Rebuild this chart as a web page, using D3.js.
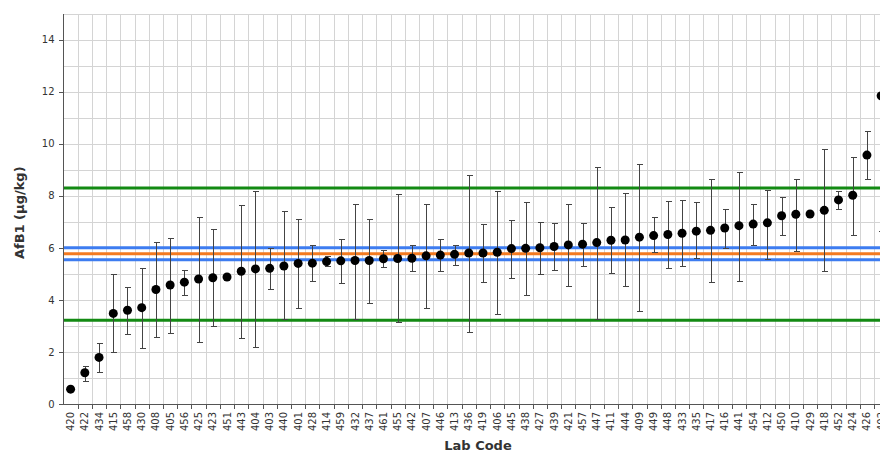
<!DOCTYPE html>
<html>
<head>
<meta charset="utf-8">
<script src="https://cdn.jsdelivr.net/npm/d3@7"></script>
<style>
  body { margin: 0; background: #fff; }
  svg { display: block; overflow: hidden; }
  .grid line { stroke: #d4d4d4; stroke-width: 1; shape-rendering: crispEdges; }
  .axis path, .axis line { stroke: #555; shape-rendering: crispEdges; }
  .axis text { font-family: "DejaVu Sans", Verdana, sans-serif; font-size: 10px; fill: #333; }
  .title { font-family: "DejaVu Sans", Verdana, sans-serif; font-size: 13px; font-weight: bold; fill: #333; }
  .errbar line { stroke: #444; stroke-width: 1; shape-rendering: crispEdges; }
  .point { fill: #000; }
</style>
</head>
<body>
<div class="content"></div>
<script>
var svgWidth = 880;   // The width of the SVG element.
var svgHeight = 452;  // The height of the SVG element.

// Lab codes, sorted by result.
var labCodes = ["420","422","434","415","458","430","408","405","456","425","423","451","443","404","403",
	"440","401","428","414","459","432","437","461","455","442","407","446","413","436","419",
	"406","445","438","427","439","421","457","447","411","444","409","449","448","433","435",
	"417","416","441","454","412","450","410","429","418","452","424","426","402"];

// Reported AfB1 results (µg/kg).
var results = [0.57,1.20,1.79,3.48,3.60,3.70,4.40,4.57,4.68,4.80,4.85,4.88,5.10,5.19,5.21,
	5.30,5.40,5.41,5.47,5.50,5.51,5.51,5.58,5.59,5.60,5.69,5.72,5.75,5.80,5.80,
	5.83,5.97,5.98,6.00,6.05,6.11,6.14,6.20,6.29,6.30,6.41,6.47,6.51,6.56,6.64,
	6.67,6.76,6.85,6.91,6.96,7.23,7.29,7.30,7.44,7.84,8.02,9.56,11.84];

// Lower and upper ends of the reported uncertainty (null = none reported).
var lowerLimits = [null,0.88,1.23,1.98,2.68,2.17,2.59,2.74,4.20,2.40,3.00,null,2.55,2.18,4.40,
	3.27,3.70,4.74,5.30,4.65,3.28,3.88,5.25,3.16,5.09,3.70,5.09,5.35,2.77,4.68,
	3.47,4.84,4.17,4.98,5.13,4.52,5.29,3.27,5.03,4.52,3.58,5.82,5.22,5.29,5.60,
	4.68,6.01,4.72,6.09,5.57,6.50,5.87,null,5.10,7.48,6.49,8.65,6.64];
var upperLimits = [null,1.47,2.36,4.98,4.50,5.21,6.21,6.39,5.13,7.20,6.71,null,7.66,8.20,5.98,
	7.43,7.10,6.10,5.68,6.33,7.69,7.10,5.91,8.07,6.10,7.68,6.33,6.10,8.79,6.91,
	8.17,7.06,7.76,6.99,6.94,7.68,6.94,9.09,7.56,8.09,9.23,7.19,7.80,7.82,7.77,
	8.64,7.48,8.92,7.68,8.22,7.95,8.64,null,9.78,8.19,9.49,10.50,17.0];

// Horizontal reference lines: assigned value, its uncertainty and the limits.
var refValues = [8.30, 6.00, 5.77, 5.54, 3.22];
var refColors = ["#138a13", "#3d7cf0", "#f47a20", "#3d7cf0", "#138a13"];

var yTicks = [0, 2, 4, 6, 8, 10, 12, 14];

var plotLeft = 63.5;
var plotTop = 13.5;
var plotBottom = 404;
var bandWidth = 14.22;

// Create the SVG element.
var svg = d3.select(".content")
	.append("svg")
	.attr("width", svgWidth)
	.attr("height", svgHeight);

var x = d3.scaleBand()
	.domain(labCodes)
	.range([plotLeft, plotLeft + bandWidth * labCodes.length])
	.padding(0);

var y = d3.scaleLinear()
	.domain([0, 15])
	.range([plotBottom, plotTop]);

var plotRight = x.range()[1];

svg.append("clipPath")
	.attr("id", "plotclip")
	.append("rect")
	.attr("x", plotLeft)
	.attr("y", plotTop - 1)
	.attr("width", plotRight - plotLeft)
	.attr("height", plotBottom - plotTop + 1);

// Grid lines: one horizontal line per unit, one vertical line between every lab.
var grid = svg.append("g").classed("grid", true);
grid.selectAll(".hgrid")
	.data(d3.range(1, 16))
	.enter().append("line")
	.attr("x1", plotLeft)
	.attr("x2", plotRight)
	.attr("y1", function(d) { return Math.round(y(d)) + 0.5; })
	.attr("y2", function(d) { return Math.round(y(d)) + 0.5; });
grid.selectAll(".vgrid")
	.data(labCodes.slice(1))
	.enter().append("line")
	.attr("x1", function(d) { return Math.round(x(d)) + 0.5; })
	.attr("x2", function(d) { return Math.round(x(d)) + 0.5; })
	.attr("y1", plotTop)
	.attr("y2", plotBottom);

var plot = svg.append("g").attr("clip-path", "url(#plotclip)");

// Reference lines, starting at the first lab.
plot.selectAll(".ref")
	.data(refValues)
	.enter().append("line")
	.classed("ref", true)
	.attr("x1", x(labCodes[0]) - 1)
	.attr("x2", plotRight)
	.attr("y1", function(d) { return y(d); })
	.attr("y2", function(d) { return y(d); })
	.attr("stroke", function(d, i) { return refColors[i]; })
	.attr("stroke-width", 3);

// Error bars with caps.
var half = x.bandwidth() / 2;
var capHalf = 3;
var bars = labCodes.map(function(code, i) {
	return {"code" : code, "lo" : lowerLimits[i], "hi" : upperLimits[i], "v" : results[i]};
}).filter(function(d) { return d.lo !== null; });

function cx(code) { return Math.round(x(code) + half) + 0.5; }

var errG = plot.selectAll(".err")
	.data(bars)
	.enter().append("g")
	.classed("errbar", true);
errG.append("line")
	.attr("x1", function(d) { return cx(d.code); })
	.attr("x2", function(d) { return cx(d.code); })
	.attr("y1", function(d) { return y(d.lo); })
	.attr("y2", function(d) { return y(d.hi); });
errG.append("line")
	.attr("x1", function(d) { return cx(d.code) - capHalf; })
	.attr("x2", function(d) { return cx(d.code) + capHalf; })
	.attr("y1", function(d) { return Math.round(y(d.lo)) + 0.5; })
	.attr("y2", function(d) { return Math.round(y(d.lo)) + 0.5; });
errG.append("line")
	.attr("x1", function(d) { return cx(d.code) - capHalf; })
	.attr("x2", function(d) { return cx(d.code) + capHalf; })
	.attr("y1", function(d) { return Math.round(y(d.hi)) + 0.5; })
	.attr("y2", function(d) { return Math.round(y(d.hi)) + 0.5; });

// The results.
plot.selectAll(".point")
	.data(results)
	.enter().append("circle")
	.classed("point", true)
	.attr("cx", function(d, i) { return x(labCodes[i]) + half; })
	.attr("cy", function(d) { return y(d); })
	.attr("r", 4.5);

// Axes.
var yAxis = d3.axisLeft(y)
	.tickValues(yTicks)
	.tickSize(5)
	.tickPadding(4);
svg.append("g")
	.classed("axis", true)
	.attr("transform", "translate(" + plotLeft + ",0)")
	.call(yAxis)
	.call(function(g) { g.select(".domain").attr("d", "M0," + plotTop + "V" + plotBottom); });

var xAxis = d3.axisBottom(x)
	.tickSize(0)
	.tickPadding(0);
var xg = svg.append("g")
	.classed("axis", true)
	.attr("transform", "translate(0," + plotBottom + ")")
	.call(xAxis);
xg.select(".domain").attr("d", "M" + plotLeft + ",0H" + plotRight);
xg.selectAll(".tick text")
	.attr("transform", "rotate(-90)")
	.attr("text-anchor", "end")
	.attr("x", -8)
	.attr("y", 0)
	.attr("dy", "0.35em");
// Small ticks at the lab boundaries.
xg.selectAll(".btick")
	.data(labCodes)
	.enter().append("line")
	.attr("x1", function(d) { return Math.round(x(d) + bandWidth) + 0.5; })
	.attr("x2", function(d) { return Math.round(x(d) + bandWidth) + 0.5; })
	.attr("y1", 0)
	.attr("y2", 5);

// Axis titles.
svg.append("text")
	.classed("title", true)
	.attr("transform", "translate(24," + ((plotTop + plotBottom) / 2 + 4) + ") rotate(-90)")
	.attr("text-anchor", "middle")
	.text("AfB1 (µg/kg)");
svg.append("text")
	.classed("title", true)
	.attr("x", 478)
	.attr("y", 450)
	.attr("text-anchor", "middle")
	.text("Lab Code");
</script>
</body>
</html>
